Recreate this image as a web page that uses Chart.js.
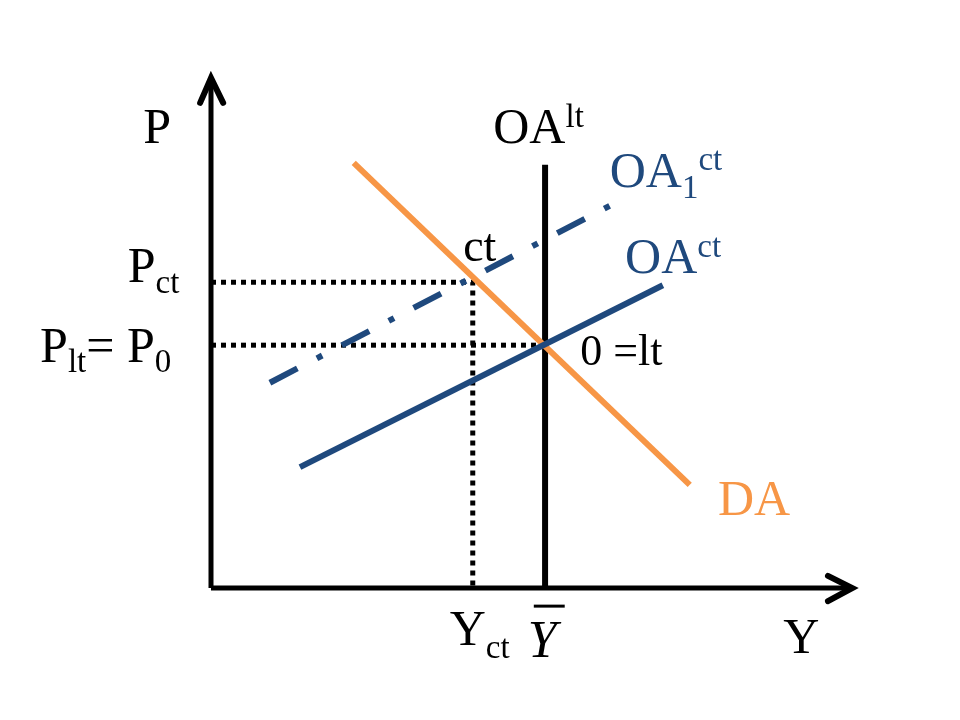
<!DOCTYPE html>
<html>
<head>
<meta charset="utf-8">
<script src="https://cdn.jsdelivr.net/npm/chart.js@4/dist/chart.umd.min.js"></script>
<style>
  body { margin: 0; background: #fff; }
  #wrap { width: 960px; height: 720px; }
</style>
</head>
<body>
<div id="wrap"><canvas id="diagram" width="960" height="720"></canvas></div>
<script>
// values, axis origin = (0, 0), axes run 0..100
const yBar = 52.2          // long run output, OA^lt
const yCt = 40.9           // short run output
const p0 = 47.8            // P_lt = P_0
const pCt = 60.2           // P_ct
const oaLtTop = 83.3

const daX = [22.3, 74.8]
const daY = [83.7, 20.3]
const oaCtX = [13.9, 70.6]
const oaCtY = [23.8, 59.6]
const oa1CtX = [9.2, 64.7]
const oa1CtY = [40.4, 76.8]

const axisTopY = 100.4
const axisEndX = 100.2

const BLUE = '#1F497D'
const ORANGE = '#F79646'
const BLACK = '#000000'

function pts(xs, ys) {
  return xs.map((x, i) => ({ x: x, y: ys[i] }))
}

function line(data, color, width, dash) {
  return {
    data: data,
    showLine: true,
    borderColor: color,
    backgroundColor: color,
    borderWidth: width,
    borderDash: dash || [],
    pointRadius: 0,
    borderCapStyle: 'butt',
    borderJoinStyle: 'miter',
    tension: 0,
    clip: false
  }
}

// text labels, anchored in data units: parts = [text, size, dy, italic, overbar]
const labels = [
  { x: -10.6, y: 87.6, color: BLACK, parts: [['P', 50]] },
  { x: -13.0, y: 60.2, color: BLACK, parts: [['P', 50], ['ct', 33, 11]] },
  { x: -26.7, y: 44.5, color: BLACK, parts: [['P', 50], ['lt', 33, 10], ['= P', 50], ['0', 33, 10]] },
  { x: 44.1, y: 87.6, color: BLACK, parts: [['OA', 50], ['lt', 33, -16]] },
  { x: 62.3, y: 78.9, color: BLUE, parts: [['OA', 50], ['1', 33, 11], ['ct', 33, -17]] },
  { x: 64.7, y: 62.0, color: BLUE, parts: [['OA', 50], ['ct', 33, -16]] },
  { x: 39.4, y: 64.4, color: BLACK, parts: [['ct', 46]] },
  { x: 57.7, y: 43.9, color: BLACK, parts: [['0 =lt', 44]] },
  { x: 79.2, y: 14.4, color: ORANGE, parts: [['DA', 50]] },
  { x: 37.3, y: -11.2, color: BLACK, parts: [['Y', 50], ['ct', 33, 13]] },
  { x: 49.5, y: -13.6, color: BLACK, parts: [['Y', 52, 0, true, true]] },
  { x: 89.4, y: -12.8, color: BLACK, parts: [['Y', 50]] }
]

const labelPlugin = {
  id: 'labels',
  afterDatasetsDraw(chart) {
    const ctx = chart.ctx
    const sx = chart.scales.x
    const sy = chart.scales.y
    ctx.save()
    ctx.textBaseline = 'alphabetic'
    ctx.textAlign = 'left'
    for (const lb of labels) {
      let px = sx.getPixelForValue(lb.x)
      const py = sy.getPixelForValue(lb.y)
      ctx.fillStyle = lb.color
      ctx.strokeStyle = lb.color
      for (const p of lb.parts) {
        const size = p[1]
        const dy = p[2] || 0
        ctx.font = (p[3] ? 'italic ' : '') + size + 'px "Liberation Serif", "Times New Roman", serif'
        ctx.fillText(p[0], px, py + dy)
        const w = ctx.measureText(p[0]).width
        if (p[4]) {
          ctx.lineWidth = 3
          ctx.beginPath()
          ctx.moveTo(px + 6, py + dy - size * 0.98)
          ctx.lineTo(px + w + 8, py + dy - size * 0.98)
          ctx.stroke()
        }
        px += w
      }
    }
    ctx.restore()
  }
}

const datasets = [
  line(pts(oaCtX, oaCtY), BLUE, 6),
  line(pts(oa1CtX, oa1CtY), BLUE, 6, [31, 22, 6, 22]),
  line(pts(daX, daY), ORANGE, 6),
  line([{ x: yBar, y: 0 }, { x: yBar, y: oaLtTop }], BLACK, 6),
  line([{ x: 0, y: pCt }, { x: yCt, y: pCt }, { x: yCt, y: 0 }], BLACK, 5, [5, 5]),
  line([{ x: 0, y: p0 }, { x: yBar, y: p0 }], BLACK, 5, [5, 5]),
  line([{ x: 0, y: 0 }, { x: 0, y: axisTopY }], BLACK, 5),
  line([{ x: 0, y: 0 }, { x: axisEndX, y: 0 }], BLACK, 5),
  line([{ x: -1.7, y: 95.5 }, { x: 0, y: axisTopY }, { x: 1.9, y: 95.5 }], BLACK, 6),
  line([{ x: 96.4, y: 2.4 }, { x: axisEndX, y: 0 }, { x: 96.4, y: -2.6 }], BLACK, 6)
]
datasets[8].borderCapStyle = 'round'
datasets[9].borderCapStyle = 'round'

const chart = new Chart(document.getElementById('diagram').getContext('2d'), {
  type: 'scatter',
  data: { datasets: datasets },
  options: {
    responsive: false,
    animation: false,
    layout: { padding: { left: 211, right: 109, top: 80, bottom: 132 } },
    scales: {
      x: { type: 'linear', min: 0, max: 100, display: false },
      y: { type: 'linear', min: 0, max: 100, display: false }
    },
    plugins: {
      legend: { display: false },
      tooltip: { enabled: false }
    }
  },
  plugins: [labelPlugin]
})
</script>
</body>
</html>
